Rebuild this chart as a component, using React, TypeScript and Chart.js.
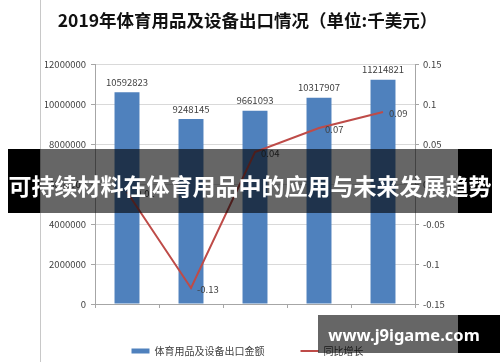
import React, { useEffect, useRef } from "react";
import { Chart, registerables } from "chart.js";

Chart.register(...registerables);

const FONT = '"Noto Sans CJK SC", "Noto Sans", sans-serif';

const categories = ["2015年", "2016年", "2017年", "2018年", "2019年"];
const exportValues = [10592823, 9248145, 9661093, 10317907, 11214821];
const growthRates = [-0.01, -0.13, 0.04, 0.07, 0.09];
const seriesNames = ["体育用品及设备出口金额", "同比增长"];
const titleText = "2019年体育用品及设备出口情况（单位:千美元）";
const bannerText = "可持续材料在体育用品中的应用与未来发展趋势";
const watermarkText = "www.j9igame.com";
const leftAxis = { min: 0, max: 12000000, step: 2000000 };
const rightAxis = { min: -0.15, max: 0.15, step: 0.05 };

const BAR_COLOR = "#4F81BD";
const LINE_COLOR = "#BE4B48";
const TEXT_COLOR = "#404040";

const dataLabels = {
  id: "dataLabels",
  afterDatasetsDraw(chart: any) {
    const ctx = chart.ctx;
    ctx.save();
    ctx.font = `9.5px ${FONT}`;
    ctx.fillStyle = TEXT_COLOR;
    ctx.textBaseline = "middle";
    const barMeta = chart.getDatasetMeta(0);
    ctx.textAlign = "center";
    barMeta.data.forEach((el: any, i: number) => {
      ctx.fillText(String(exportValues[i]), el.x, el.y - 10);
    });
    const lineMeta = chart.getDatasetMeta(1);
    ctx.textAlign = "left";
    lineMeta.data.forEach((el: any, i: number) => {
      ctx.fillText(String(growthRates[i]), el.x + 6, el.y + 1);
    });
    ctx.restore();
  },
};

export default function App() {
  const canvasRef = useRef<HTMLCanvasElement | null>(null);

  useEffect(() => {
    if (!canvasRef.current) return;
    Chart.defaults.font.family = FONT;
    const chart = new Chart(canvasRef.current, {
      type: "bar",
      data: {
        labels: categories,
        datasets: [
          {
            type: "bar",
            label: seriesNames[0],
            data: exportValues,
            backgroundColor: BAR_COLOR,
            borderWidth: 0,
            yAxisID: "y",
            categoryPercentage: 1,
            barPercentage: 0.39,
            order: 1,
            pointStyle: "rect",
          } as any,
          {
            type: "line",
            label: seriesNames[1],
            data: growthRates,
            borderColor: LINE_COLOR,
            backgroundColor: LINE_COLOR,
            borderWidth: 2,
            pointRadius: 0,
            tension: 0,
            yAxisID: "y1",
            order: 0,
            pointStyle: "line",
          } as any,
        ],
      },
      options: {
        responsive: false,
        animation: false,
        layout: { padding: { top: 0, left: 45, right: 50, bottom: 0 } },
        plugins: {
          title: {
            display: true,
            text: titleText,
            color: "#111111",
            font: { size: 17.5, weight: "bold", family: FONT },
            padding: { top: 9.5, bottom: 33.5 },
          },
          legend: {
            position: "bottom",
            maxHeight: 52,
            labels: {
              usePointStyle: true,
              pointStyleWidth: 18,
              boxHeight: 5,
              padding: 36,
              color: TEXT_COLOR,
              font: { size: 10, family: FONT },
              sort: (a: any, b: any) => a.datasetIndex - b.datasetIndex,
            },
          },
          tooltip: { enabled: false },
        },
        scales: {
          x: {
            offset: true,
            afterFit: (s: any) => {
              s.height = 6;
            },
            grid: {
              offset: true,
              drawOnChartArea: false,
              tickLength: 4,
              tickColor: "#a6a6a6",
            },
            border: { color: "#a6a6a6" },
            ticks: {
              color: TEXT_COLOR,
              font: { size: 10, family: FONT },
              padding: 7,
              maxRotation: 0,
            },
          },
          y: {
            position: "left",
            min: leftAxis.min,
            max: leftAxis.max,
            afterFit: (s: any) => {
              s.width = 50;
            },
            grid: { color: "#d9d9d9", tickLength: 4, tickColor: "#a6a6a6" },
            border: { color: "#a6a6a6" },
            ticks: {
              stepSize: leftAxis.step,
              color: TEXT_COLOR,
              font: { size: 9.5, family: FONT },
              padding: 5,
              callback: (v: any) => String(v),
            },
          },
          y1: {
            position: "right",
            min: rightAxis.min,
            max: rightAxis.max,
            afterFit: (s: any) => {
              s.width = 35;
            },
            grid: { drawOnChartArea: false, tickLength: 4, tickColor: "#a6a6a6" },
            border: { color: "#a6a6a6" },
            ticks: {
              stepSize: rightAxis.step,
              color: TEXT_COLOR,
              font: { size: 9.5, family: FONT },
              padding: 4,
              callback: (v: any) => String(Math.round(Number(v) * 100) / 100),
            },
          },
        },
      } as any,
      plugins: [dataLabels],
    });
    return () => chart.destroy();
  }, []);

  return (
    <div
      style={{
        position: "fixed",
        left: 0,
        top: 0,
        width: 500,
        height: 362,
        background: "#ffffff",
        overflow: "hidden",
      }}
    >
      <canvas ref={canvasRef} width={500} height={362} style={{ position: "absolute", left: 0, top: 0 }} />
      <div style={{ position: "absolute", left: 40, top: 0, width: 1, height: 362, background: "#c8c8c8" }} />
      {/* banner */}
      <div style={{ position: "absolute", left: 8, top: 149, width: 32, height: 64, background: "#000" }} />
      <div style={{ position: "absolute", left: 458, top: 149, width: 34, height: 64, background: "#000" }} />
      <div style={{ position: "absolute", left: 40, top: 149, width: 418, height: 64, background: "rgba(0,0,0,0.6)" }} />
      <div
        style={{
          position: "absolute",
          left: 8,
          top: 149,
          width: 484,
          height: 64,
          display: "flex",
          alignItems: "center",
          justifyContent: "center",
          color: "#ffffff",
          fontFamily: FONT,
          fontWeight: 700,
          fontSize: 23,
          whiteSpace: "nowrap",
          letterSpacing: 0,
          paddingTop: 8,
          boxSizing: "border-box",
        }}
      >
        {bannerText}
      </div>
      {/* watermark */}
      <div style={{ position: "absolute", left: 318, top: 315, width: 140, height: 38, background: "rgba(0,0,0,0.6)" }} />
      <div style={{ position: "absolute", left: 458, top: 315, width: 42, height: 38, background: "#000" }} />
      <div
        style={{
          position: "absolute",
          left: 322,
          top: 315,
          width: 164,
          height: 38,
          display: "flex",
          alignItems: "center",
          justifyContent: "center",
          color: "#ffffff",
          fontFamily: '"Noto Sans", "Open Sans", sans-serif',
          fontWeight: 700,
          fontSize: 16.5,
          whiteSpace: "nowrap",
        }}
      >
        {watermarkText}
      </div>
    </div>
  );
}
